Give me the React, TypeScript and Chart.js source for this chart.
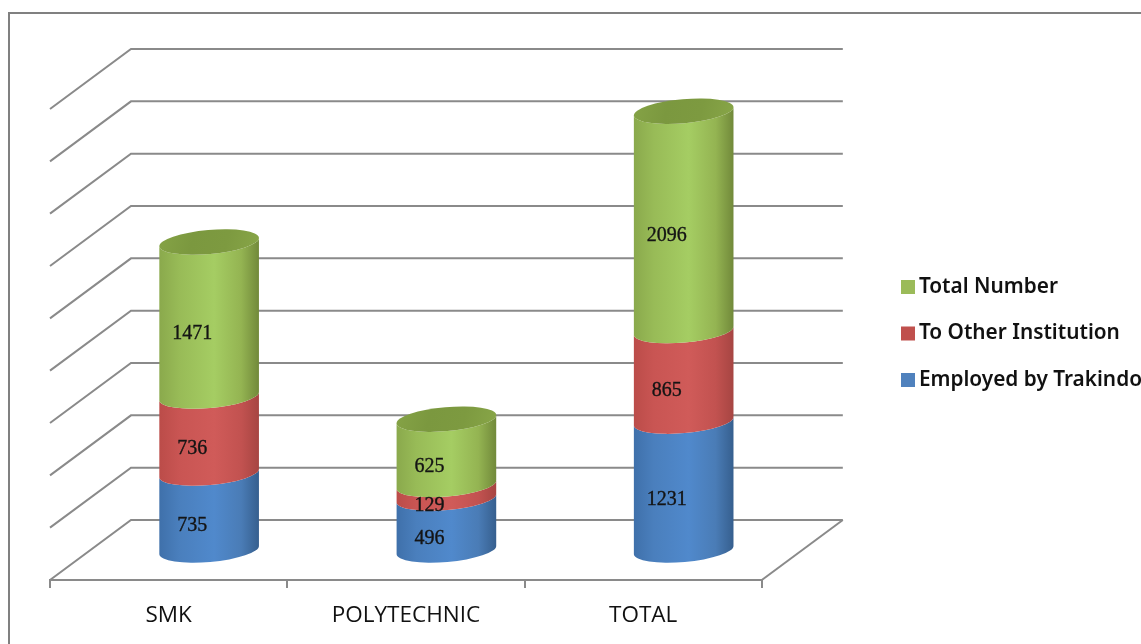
import React, { useEffect, useRef } from "react";
import { Chart, registerables } from "chart.js";

Chart.register(...registerables);

const categories = ["SMK", "POLYTECHNIC", "TOTAL"];
const employedByTrakindo = [735, 496, 1231];
const toOtherInstitution = [736, 129, 865];
const totalNumber = [1471, 625, 2096];

const WIDTH = 1141;
const HEIGHT = 644;
const DEPTH_X = 81;
const DEPTH_Y = -60;
const BAR_SHIFT_X = 40.5;
const BAR_SHIFT_Y = -30;
const LABEL_SHIFT_X = 23.5;
const LABEL_SHIFT_Y = -15.5;
const CAP_RY = 12;
const CAP_TILT = (-5 * Math.PI) / 180;
const LINE_COLOR = "#8a8a8a";

const shades: Record<string, string[]> = {
  "#4f81bd": ["#3f70aa", "#4a7fbd", "#5089cc", "#4a7cb6", "#365f8e"],
  "#c0504d": ["#bb4c49", "#c95553", "#d05b59", "#c25250", "#a64542"],
  "#9bbb59": ["#8aa94c", "#98bb57", "#a5cd63", "#94b452", "#71893a"],
};
const capShades = ["#85a346", "#7b983f", "#7d9a40", "#88a648"];

function sideGradient(ctx: CanvasRenderingContext2D, x0: number, x1: number, colors: string[]) {
  const g = ctx.createLinearGradient(x0, 0, x1, 0);
  [0, 0.2, 0.55, 0.82, 1].forEach((s, i) => g.addColorStop(s, colors[i]));
  return g;
}

// Paints the stacked bars as upright cylinders on the middle of the floor.
const cylinderPlugin = {
  id: "cylinders",
  beforeDatasetsDraw(chart: any) {
    const ctx: CanvasRenderingContext2D = chart.ctx;
    const { left, right } = chart.chartArea;
    const yScale = chart.scales.y;

    // walls and floor grid
    ctx.save();
    ctx.strokeStyle = LINE_COLOR;
    ctx.lineWidth = 2;
    yScale.ticks.forEach((t: any) => {
      const y = yScale.getPixelForValue(t.value);
      ctx.beginPath();
      ctx.moveTo(left, y);
      ctx.lineTo(left + DEPTH_X, y + DEPTH_Y);
      ctx.lineTo(right + DEPTH_X, y + DEPTH_Y);
      ctx.stroke();
    });
    const floor = yScale.getPixelForValue(0);
    ctx.beginPath();
    ctx.moveTo(right, floor);
    ctx.lineTo(right + DEPTH_X, floor + DEPTH_Y);
    ctx.stroke();

    const lastSet = chart.data.datasets.length - 1;
    categories.forEach((_, i) => {
      chart.data.datasets.forEach((ds: any, d: number) => {
        const bar = chart.getDatasetMeta(d).data[i];
        const cx = bar.x + BAR_SHIFT_X;
        const rx = bar.width / 2;
        const top = bar.y + BAR_SHIFT_Y;
        const base = bar.base + BAR_SHIFT_Y;
        const x0 = cx - rx;
        const x1 = cx + rx;
        ctx.beginPath();
        ctx.ellipse(cx, base, rx, CAP_RY, CAP_TILT, 0, Math.PI);
        ctx.ellipse(cx, top, rx, CAP_RY, CAP_TILT, Math.PI, 0, true);
        ctx.closePath();
        ctx.fillStyle = sideGradient(ctx, x0, x1, shades[ds.backgroundColor]);
        ctx.fill();
        if (d === lastSet) {
          const cap = ctx.createLinearGradient(x0, top - CAP_RY, x1, top + CAP_RY);
          capShades.forEach((c, k) => cap.addColorStop(k / (capShades.length - 1), c));
          ctx.beginPath();
          ctx.ellipse(cx, top, rx, CAP_RY, CAP_TILT, 0, Math.PI * 2);
          ctx.fillStyle = cap;
          ctx.fill();
        }
      });
    });

    // value labels sit on the front of each segment
    ctx.font = '20px "Liberation Serif"';
    ctx.fillStyle = "#141414";
    ctx.strokeStyle = "#141414";
    ctx.lineWidth = 0.35;
    ctx.textAlign = "center";
    ctx.textBaseline = "middle";
    chart.data.datasets.forEach((ds: any, d: number) => {
      chart.getDatasetMeta(d).data.forEach((bar: any, i: number) => {
        const tx = bar.x + LABEL_SHIFT_X;
        const ty = (bar.y + bar.base) / 2 + LABEL_SHIFT_Y;
        ctx.fillText(String(ds.data[i]), tx, ty);
        ctx.strokeText(String(ds.data[i]), tx, ty);
      });
    });
    ctx.restore();
    return false;
  },
};

// Frame along the top and left of the chart, and the legend's fixed place.
const framePlugin = {
  id: "frame",
  afterLayout(chart: any) {
    const lg = chart.legend;
    const pad = lg.options.labels.padding;
    const dy = 333.5 - (lg.top + lg.bottom) / 2;
    lg.top += dy;
    lg.bottom += dy;
    lg.left = 907.5 - pad;
    lg.right = WIDTH;
  },
  beforeDraw(chart: any) {
    const ctx: CanvasRenderingContext2D = chart.ctx;
    ctx.save();
    ctx.fillStyle = "#ffffff";
    ctx.fillRect(0, 0, WIDTH, HEIGHT);
    ctx.strokeStyle = "#808080";
    ctx.lineWidth = 2;
    ctx.beginPath();
    ctx.moveTo(9, HEIGHT);
    ctx.lineTo(9, 13);
    ctx.lineTo(WIDTH, 13);
    ctx.stroke();
    ctx.restore();
  },
};

export default function App() {
  const ref = useRef<HTMLCanvasElement>(null);
  useEffect(() => {
    document.body.style.margin = "0";
    const chart = new Chart(ref.current as HTMLCanvasElement, {
      type: "bar",
      data: {
        labels: categories,
        datasets: [
          { label: "Employed by Trakindo", data: employedByTrakindo, backgroundColor: "#4f81bd" },
          { label: "To Other Institution", data: toOtherInstitution, backgroundColor: "#c0504d" },
          { label: "Total Number", data: totalNumber, backgroundColor: "#9bbb59" },
        ],
      },
      options: {
        responsive: false,
        animation: false,
        barThickness: 100,
        layout: { padding: { left: 50, top: 109, bottom: 0, right: 109 } },
        plugins: {
          tooltip: { enabled: false },
          legend: {
            position: "right",
            reverse: true,
            labels: {
              usePointStyle: true,
              pointStyle: "rect",
              boxWidth: 1,
              boxHeight: 14,
              padding: 25.7,
              color: "#111111",
              font: { family: '"Noto Sans"', size: 20.8, weight: "600" },
            },
          },
        },
        scales: {
          x: {
            stacked: true,
            border: { color: LINE_COLOR, width: 2 },
            grid: { drawOnChartArea: false, drawTicks: true, tickLength: 8, color: LINE_COLOR, lineWidth: 2 },
            ticks: {
              padding: 14.5,
              color: "#111111",
              maxRotation: 0,
              font: { family: '"Open Sans"', size: 22.5 },
            },
          },
          y: { stacked: true, display: false, min: 0, max: 4500, ticks: { stepSize: 500 } },
        },
      } as any,
      plugins: [framePlugin, cylinderPlugin],
    });
    return () => chart.destroy();
  }, []);
  return <canvas ref={ref} width={WIDTH} height={HEIGHT} style={{ display: "block" }} />;
}
